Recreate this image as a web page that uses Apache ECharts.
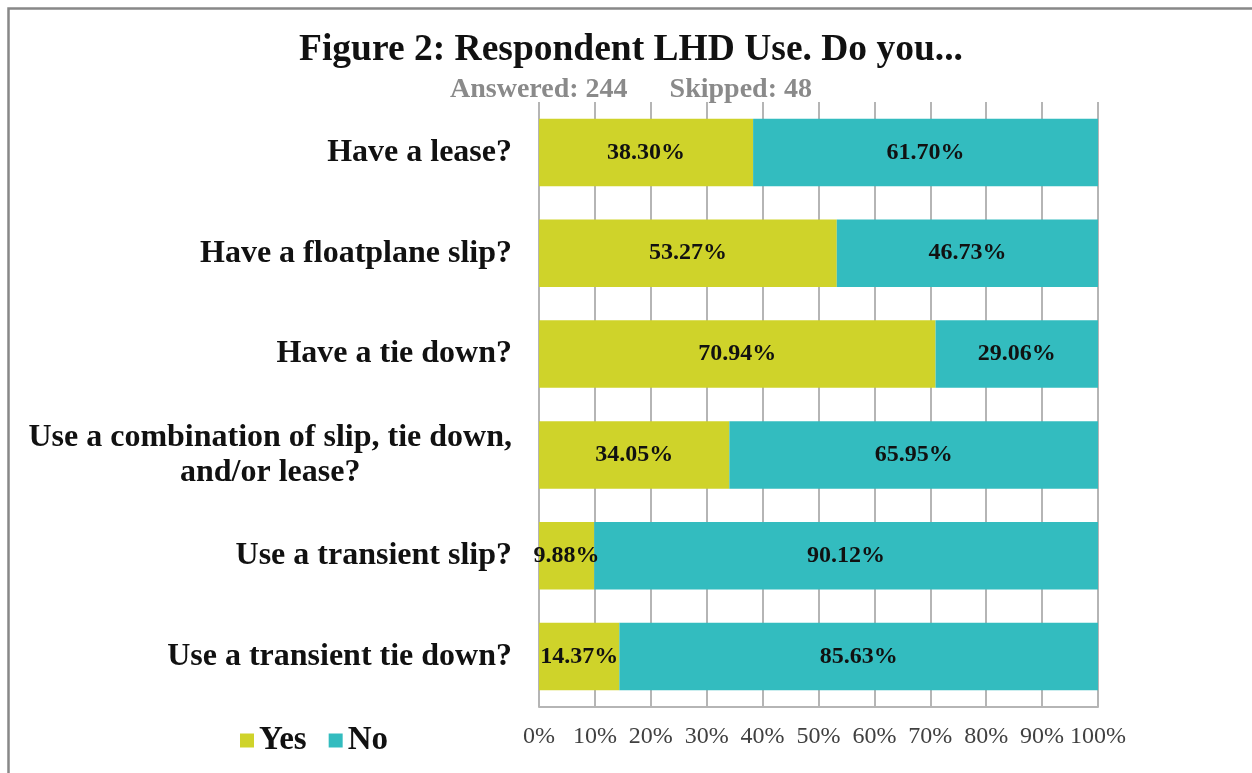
<!DOCTYPE html>
<html>
<head>
<meta charset="utf-8">
<script src="https://cdn.jsdelivr.net/npm/echarts@6/dist/echarts.min.js"></script>
<style>
html, body { margin: 0; padding: 0; background: #fff; }
#chart { width: 1252px; height: 773px; }
</style>
</head>
<body>
<div id="chart"></div>
<script>
var questions = [
    "Have a lease?",
    "Have a floatplane slip?",
    "Have a tie down?",
    "Use a combination of slip, tie down,\nand/or lease?",
    "Use a transient slip?",
    "Use a transient tie down?"
];
var yesValues = [38.30, 53.27, 70.94, 34.05, 9.88, 14.37];
var noValues = [61.70, 46.73, 29.06, 65.95, 90.12, 85.63];

var serif = "'Liberation Serif', 'DejaVu Serif', serif";

function pctLabel(p) {
    return p.value.toFixed(2) + "%";
}

var option = {
    animation: false,
    backgroundColor: "#fff",
    textStyle: { fontFamily: serif },
    title: {
        text: "Figure 2: Respondent LHD Use. Do you...",
        subtext: "Answered: 244      Skipped: 48",
        left: 626, textAlign: "center",
        top: 25,
        itemGap: 5,
        textStyle: { fontFamily: serif, fontSize: 37.5, fontWeight: "bold", color: "#111", lineHeight: 40 },
        subtextStyle: { fontFamily: serif, fontSize: 28, fontWeight: "bold", color: "#8a8a8a", lineHeight: 30 }
    },
    legend: {
        left: 235, top: 719,
        itemWidth: 14, itemHeight: 14, itemGap: 22,
        icon: "rect",
        textStyle: { fontFamily: serif, fontSize: 33, fontWeight: "bold", color: "#111", padding: [0, 0, 0, 0] },
        data: ["Yes", "No"]
    },
    grid: { left: 539, right: 154, top: 102, bottom: 66 },
    xAxis: {
        type: "value", min: 0, max: 100, interval: 10,
        axisLine: { show: true, lineStyle: { color: "#b5b5b5", width: 2 } },
        axisTick: { show: false },
        splitLine: { show: true, lineStyle: { color: "#b5b5b5", width: 2 } },
        axisLabel: {
            margin: 18, fontFamily: serif, fontSize: 24, color: "#404040",
            formatter: "{value}%"
        }
    },
    yAxis: {
        type: "category", inverse: true, data: questions,
        axisLine: { show: false }, axisTick: { show: false },
        axisLabel: {
            margin: 27, fontFamily: serif, fontSize: 32, fontWeight: "bold", color: "#111",
            lineHeight: 35,
            formatter: function (v) {
                return v.split("\n").map(function (s) { return "{c|" + s + "}"; }).join("\n");
            },
            rich: { c: { align: "center", fontFamily: serif, fontSize: 32, fontWeight: "bold", color: "#111", lineHeight: 35 } }
        }
    },
    series: [
        {
            name: "Yes", type: "bar", stack: "all", data: yesValues,
            barCategoryGap: "33%",
            itemStyle: { color: "#cfd32a" },
            label: { show: true, position: "inside", formatter: pctLabel,
                     fontFamily: serif, fontSize: 24, fontWeight: "bold", color: "#111" }
        },
        {
            name: "No", type: "bar", stack: "all", data: noValues,
            barCategoryGap: "33%",
            itemStyle: { color: "#33bcbf" },
            label: { show: true, position: "inside", formatter: pctLabel,
                     fontFamily: serif, fontSize: 24, fontWeight: "bold", color: "#111" }
        }
    ],
    graphic: [
        {
            type: "rect", left: 6, top: 6, z: -1,
            shape: { width: 1270, height: 800 },
            style: { fill: null, stroke: "#888", lineWidth: 2.5 }
        }
    ]
};

var chart = echarts.init(document.getElementById("chart"));
chart.setOption(option);
</script>
</body>
</html>
